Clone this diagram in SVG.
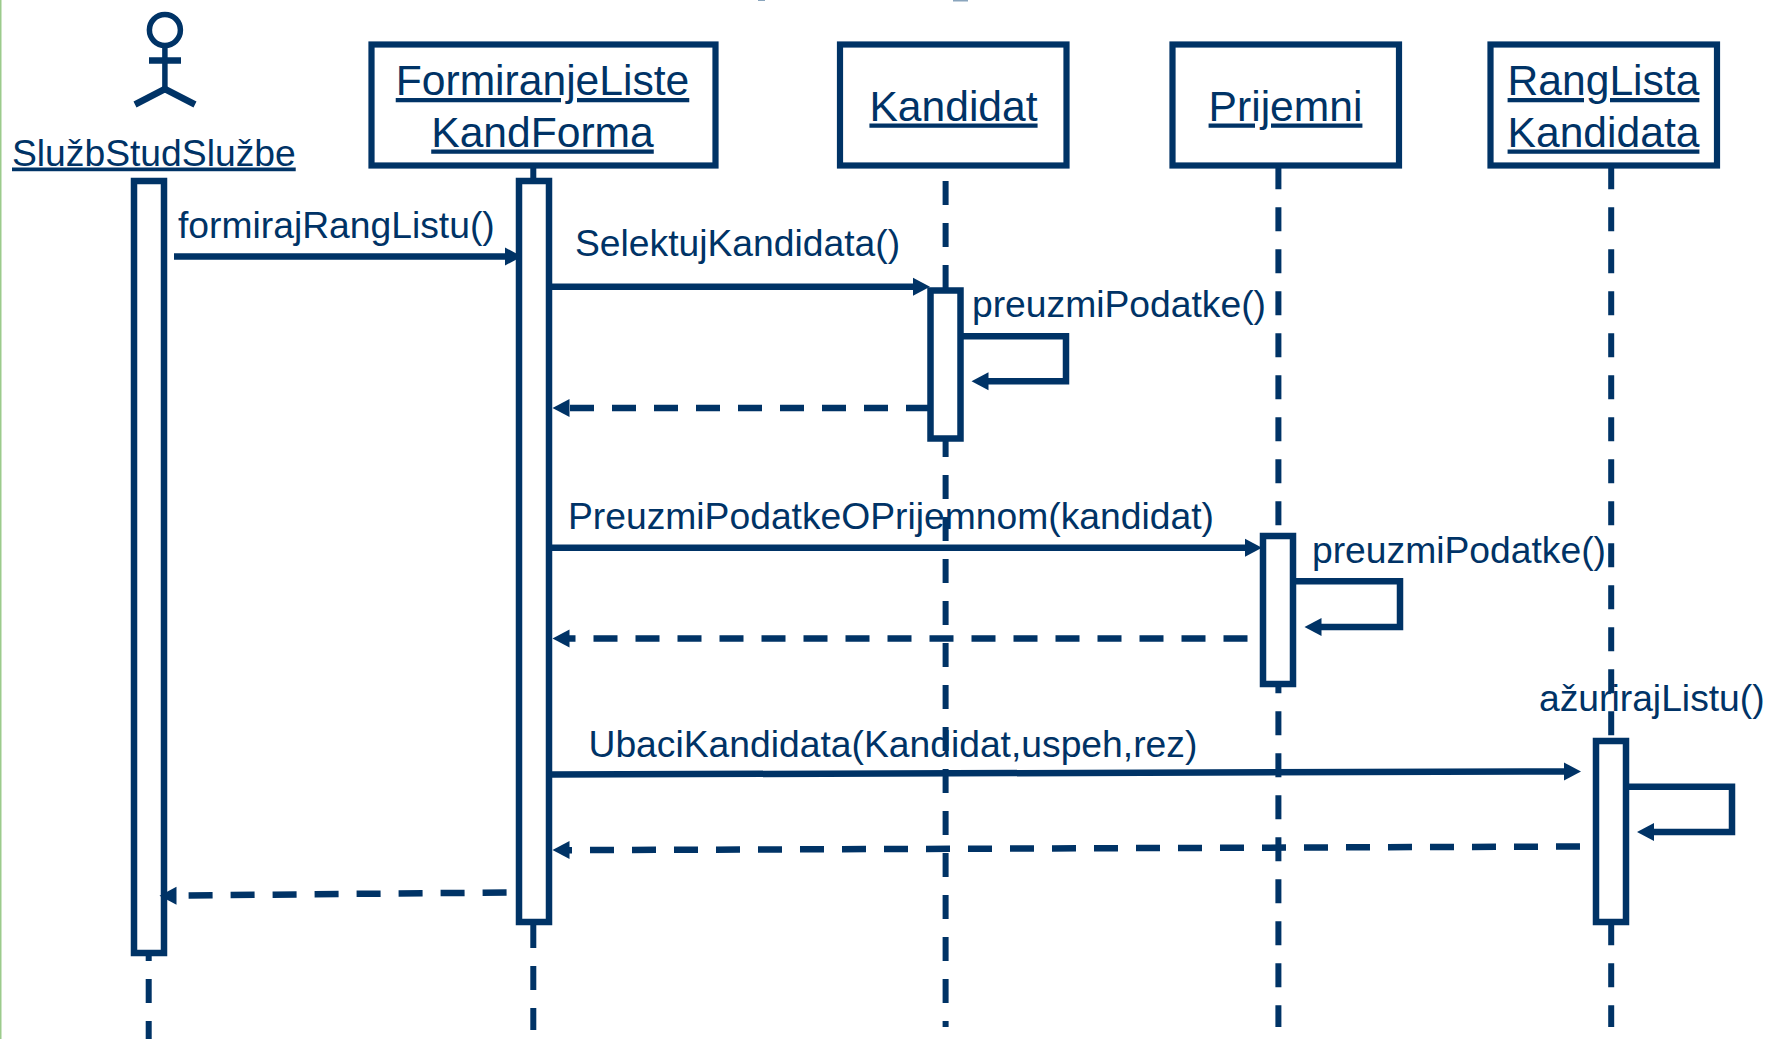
<svg xmlns="http://www.w3.org/2000/svg" width="1766" height="1039" viewBox="0 0 1766 1039">
<style>
text{font-family:"Liberation Sans",Arial,sans-serif;font-size:37.25px;fill:#003366}
.n{font-size:42.6px;text-anchor:middle;text-decoration:underline}
.a{text-decoration:underline}
.box{fill:#fff;stroke:#003366;stroke-width:6.2}
.act{fill:#fff;stroke:#003366;stroke-width:6.5}
.ll{fill:none;stroke:#003366;stroke-width:6;stroke-dasharray:24 18}
.m{fill:none;stroke:#003366;stroke-width:6.5}
.d{fill:none;stroke:#003366;stroke-width:6.5;stroke-dasharray:24 18}
.h{fill:#003366}
</style>
<defs>
<polygon id="hr" class="h" points="0,0 -17,-9 -17,9"/>
<polygon id="hl" class="h" points="0,0 17,-9 17,9"/>
</defs>
<rect width="1766" height="1039" fill="#fff"/>
<rect width="1.5" height="1039" fill="#9ccb8c"/>
<g id="title-clip" fill="#8aa5bd">
<rect x="758" y="0" width="7" height="1"/>
<rect x="953" y="0" width="15" height="1.5"/>
</g>
<g id="lifelines">
<path class="ll" d="M148.7 937V1039"/>
<path class="ll" d="M533.3 168V1030"/>
<path class="ll" d="M945.6 181V1027"/>
<path class="ll" d="M1278.4 165.3V1027"/>
<path class="ll" d="M1611.2 165.3V1027"/>
</g>
<g id="actor">
<g fill="none" stroke="#003366">
<ellipse cx="164.9" cy="30" rx="15.5" ry="15.5" stroke-width="5.5"/>
<path d="M164.9 47V88" stroke-width="5.5"/>
<path d="M149 60.5H181" stroke-width="6.5"/>
<path d="M135 104.5L164.9 89L195 104.5" stroke-width="6.5"/>
</g>
<text class="a" x="12" y="165.5">SlužbStudSlužbe</text>
</g>
<g id="node-forma">
<rect class="box" x="371.5" y="44.5" width="344" height="121"/>
<text class="n" x="542.5" y="95">FormiranjeListe</text>
<text class="n" x="542.5" y="146.5">KandForma</text>
</g>
<g id="node-kandidat">
<rect class="box" x="840" y="44.5" width="226.5" height="121"/>
<text class="n" x="953.5" y="120.5">Kandidat</text>
</g>
<g id="node-prijemni">
<rect class="box" x="1172.5" y="44.5" width="226.5" height="121"/>
<text class="n" x="1285.5" y="120.5">Prijemni</text>
</g>
<g id="node-ranglista">
<rect class="box" x="1490.5" y="44.5" width="226.5" height="121"/>
<text class="n" x="1603.5" y="95">RangLista</text>
<text class="n" x="1603.5" y="146.5">Kandidata</text>
</g>
<g id="activations">
<rect class="act" x="134" y="181" width="30" height="772"/>
<rect class="act" x="519" y="181" width="30" height="741"/>
<rect class="act" x="930.5" y="290.5" width="30" height="148"/>
<rect class="act" x="1263" y="536" width="30" height="148"/>
<rect class="act" x="1596" y="741" width="30" height="181"/>
</g>
<g id="connectors">
<path class="m" d="M174 256.5H506"/>
<use href="#hr" x="522" y="256.5"/>
<path class="m" d="M552 286.8H913"/>
<use href="#hr" x="930" y="286.8"/>
<path class="d" d="M570 408H928"/>
<use href="#hl" x="552.5" y="408"/>
<path class="m" d="M963 336.2H1066V381.2H987"/>
<use href="#hl" x="971.5" y="381.2"/>
<path class="m" d="M552 547.8H1246"/>
<use href="#hr" x="1262" y="547.8"/>
<path class="d" d="M565 638.5H1248" stroke-dashoffset="13.5"/>
<use href="#hl" x="552.5" y="638.5"/>
<path class="m" d="M1296 581.2H1400V627H1320"/>
<use href="#hl" x="1304.5" y="627"/>
<path class="m" d="M552 774.5L1565 771.5"/>
<use href="#hr" x="1581" y="771.5"/>
<path class="d" d="M565 850.2L1581 846.5" stroke-dashoffset="17"/>
<use href="#hl" x="552.5" y="850"/>
<path class="m" d="M1629 786.8H1732V832H1652"/>
<use href="#hl" x="1637" y="832"/>
<path class="d" d="M188.6 895.4L507 892.5"/>
<use href="#hl" x="159.5" y="895.8"/>
</g>
<g id="labels">
<text x="178" y="238">formirajRangListu()</text>
<text x="575" y="256">SelektujKandidata()</text>
<text x="972" y="317">preuzmiPodatke()</text>
<text x="568" y="529">PreuzmiPodatkeOPrijemnom(kandidat)</text>
<text x="1312" y="562.5">preuzmiPodatke()</text>
<text x="1539" y="710.5">ažurirajListu()</text>
<text x="588.5" y="756.5">UbaciKandidata(Kandidat,uspeh,rez)</text>
</g>
</svg>
